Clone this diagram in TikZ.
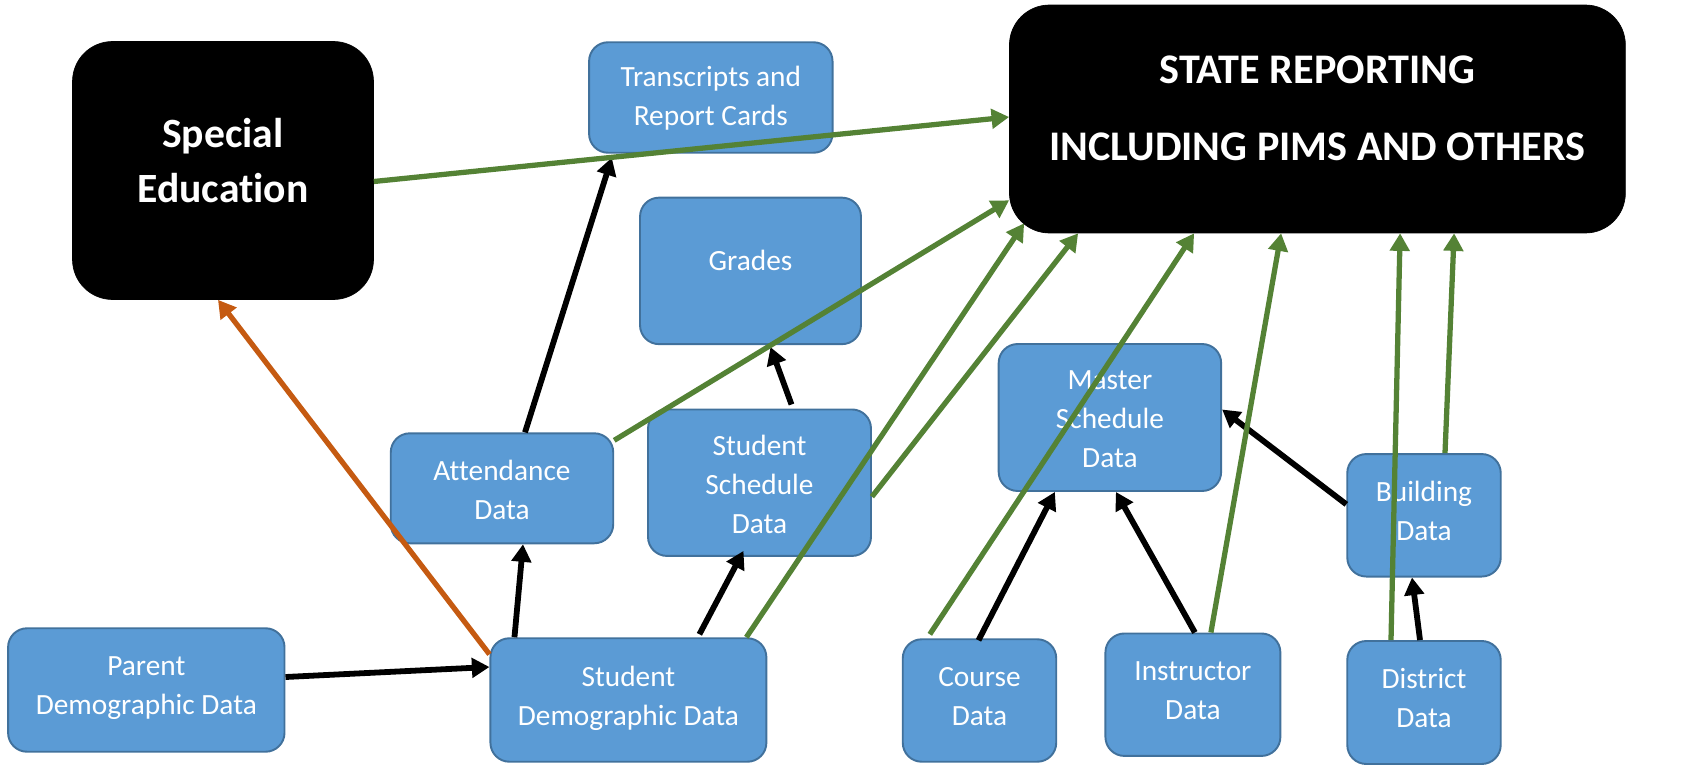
\documentclass[tikz,border=0pt]{standalone}
\usepackage{fontspec}
\setmainfont{Carlito}[Ligatures=NoCommon]
\usepackage{xcolor}
\usepackage{tikz}
\definecolor{boxblue}{RGB}{91,155,213}
\definecolor{boxedge}{RGB}{65,113,156}
\definecolor{flowgreen}{RGB}{84,130,53}
\definecolor{floworange}{RGB}{197,90,17}
\usetikzlibrary{arrows.meta,calc}

\begin{document}
\begin{tikzpicture}[x=0.02cm,y=-0.02cm,
    databox/.style={draw=boxedge, line width=1.1pt, fill=boxblue, rounded corners=0.38cm},
    bigbox/.style={draw=black, fill=black, rounded corners=0.8cm},
    datatext/.style={text=white, align=center, font=\fontsize{16.7pt}{22.2pt}\selectfont},
    bigtext/.style={text=white, align=center, font=\bfseries\fontsize{23.7pt}{31.7pt}\selectfont},
    feed/.style={line width=3.3pt, -{Triangle[length=10pt,width=11pt]}},
    report/.style={flowgreen, line width=3pt, -{Triangle[length=10pt,width=11pt]}}]

    \useasboundingbox (0,0) rectangle (1690,767);

    % Black reporting boxes
    \node[bigbox, minimum width=6.02cm, minimum height=5.16cm,
      label={[bigtext, name=spedtxt, yshift=0.2cm]center:Special\\Education}] (sped) at (223,170.5) {};
    \node[bigbox, minimum width=12.32cm, minimum height=4.56cm,
      label={[bigtext, name=statetxt, yshift=0.21cm, font=\bfseries\fontsize{24pt}{43.7pt}\selectfont]center:STATE REPORTING\\INCLUDING PIMS AND OTHERS}] (state) at (1317.4,119) {};

    % Data boxes
    \node[databox, minimum width=4.87cm, minimum height=2.21cm,
      label={[datatext, name=transtxt, yshift=-0.02cm]center:Transcripts and\\Report Cards}] (trans) at (710.8,97.5) {};
    \node[databox, minimum width=4.42cm, minimum height=2.93cm,
      label={[datatext, name=gradestxt, yshift=0.2cm]center:Grades}] (grades) at (750.5,270.9) {};
    \node[databox, minimum width=4.45cm, minimum height=2.2cm,
      label={[datatext, name=attendtxt, yshift=-0.03cm]center:Attendance\\Data}] (attend) at (502,488.3) {};
    \node[databox, minimum width=4.46cm, minimum height=2.93cm,
      label={[datatext, name=schedtxt, yshift=-0.04cm]center:Student\\Schedule\\Data}] (sched) at (759.5,482.7) {};
    \node[databox, minimum width=4.45cm, minimum height=2.94cm,
      label={[datatext, name=mastertxt, yshift=-0.04cm]center:Master\\Schedule\\Data}] (master) at (1109.9,417.5) {};
    \node[databox, minimum width=3.07cm, minimum height=2.45cm,
      label={[datatext, name=buildtxt, yshift=0.08cm]center:Building\\Data}] (build) at (1424,515.3) {};
    \node[databox, minimum width=5.53cm, minimum height=2.47cm,
      label={[datatext, name=parenttxt, yshift=0.04cm]center:Parent\\Demographic Data}] (parent) at (146.3,690) {};
    \node[databox, minimum width=5.52cm, minimum height=2.47cm,
      label={[datatext, name=studtxt, yshift=0.04cm]center:Student\\Demographic Data}] (stud) at (628.4,700) {};
    \node[databox, minimum width=3.07cm, minimum height=2.45cm,
      label={[datatext, name=coursetxt, yshift=0.08cm]center:Course\\Data}] (course) at (979.5,700.5) {};
    \node[databox, minimum width=3.5cm, minimum height=2.45cm,
      label={[datatext, name=instrtxt, yshift=0.08cm]center:Instructor\\Data}] (instr) at (1192.9,694.7) {};
    \node[databox, minimum width=3.07cm, minimum height=2.46cm,
      label={[datatext, name=districttxt, yshift=0.08cm]center:District\\Data}] (district) at (1424,702.5) {};

    % Feeds between data sets
    \draw[feed] ($(parent.east)+(0,-13)$) -- ($(stud.west)+(0,-33)$);
    \draw[feed] ($(stud.north west)+(25,0)$) -- ($(attend.south)+(21,0)$);
    \draw[feed] ($(stud.north)+(71,-3)$) -- ($(sched.south)+(-16,-6)$);
    \draw[feed] ($(attend.north)+(23,0)$) -- ($(trans.south)+(-99,4)$);
    \draw[feed] ($(sched.north)+(32,-4)$) -- ($(grades.south)+(20,2)$);
    \draw[feed] ($(course.north)+(-1,2)$) -- ($(master.south)+(-55,0)$);
    \draw[feed] ($(instr.north)+(2,0)$) -- ($(master.south)+(6,0)$);
    \draw[feed] ($(build.west)+(0,-11)$) -- ($(master.east)+(0,-8)$);
    \draw[feed] ($(district.north)+(-4,0)$) -- ($(build.south)+(-12,0)$);
    \draw[feed, floworange, line width=3pt] ($(stud.north west)+(0,17)$) -- ($(sped.south)+(-5,0)$);

    % Green lines into state reporting
    \draw[report] ($(sped.east)+(0,11)$) -- ($(state.west)+(0,-2)$);
    \draw[report] ($(attend.north east)+(0,8)$) -- ($(state.south west)+(0,-33)$);
    \draw[report] ($(stud.north east)+(-21,0)$) -- ($(state.south west)+(15,-10)$);
    \draw[report] ($(sched.east)+(0,14)$) -- ($(state.south west)+(69,0)$);
    \draw[report] ($(course.north west)+(28,-4)$) -- ($(state.south west)+(185,0)$);
    \draw[report] ($(instr.north)+(18,0)$) -- ($(state.south west)+(272,0)$);
    \draw[report] ($(district.north)+(-33,0)$) -- ($(state.south west)+(391,0)$);
    \draw[report] ($(build.north)+(21,0)$) -- ($(state.south west)+(445,0)$);
\end{tikzpicture}
\end{document}
